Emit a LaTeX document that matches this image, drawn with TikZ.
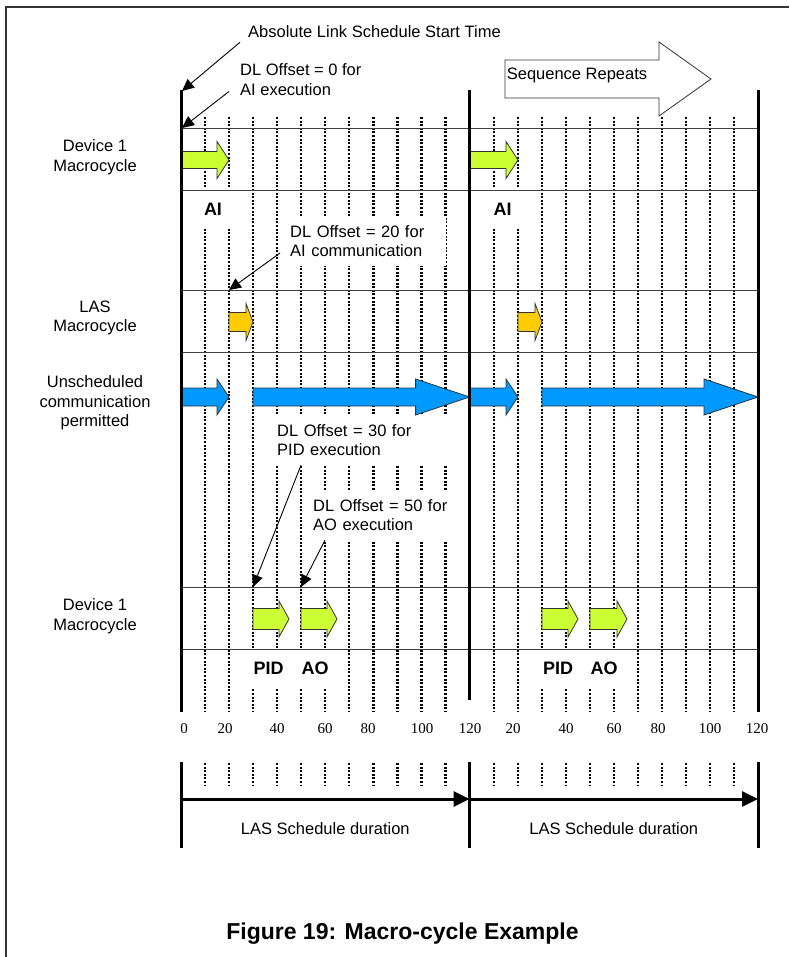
\documentclass[tikz,border=0pt]{standalone}
\usepackage{fontspec}
\setmainfont{Liberation Sans}
\newfontfamily\numfont{Liberation Serif}
\usepackage{xcolor}
\usetikzlibrary{positioning, arrows.meta}

\definecolor{limegr}{RGB}{204,255,51}
\definecolor{goldy}{RGB}{255,204,0}
\definecolor{skyb}{RGB}{0,153,255}

% block arrow: fill, x start, x tip, y, body half, head half, head length
\newcommand\blockarr[7]{%
  \draw[blk, fill=#1] (#2,#4-#5) -- (#3-#7,#4-#5) -- (#3-#7,#4-#6) -- (#3,#4)
    -- (#3-#7,#4+#6) -- (#3-#7,#4+#5) -- (#2,#4+#5) -- cycle;}

\begin{document}
\begin{tikzpicture}[x=1pt, y=-1pt, >=Latex,
  txt/.style={font=\fontsize{16.5}{19.5}\selectfont, align=center, inner sep=0pt},
  note/.style={font=\fontsize{16.5}{19.5}\selectfont, align=left, fill=white, minimum height=50pt},
  fb/.style={font=\bfseries\fontsize{18}{20}\selectfont, fill=white, inner sep=0pt, minimum width=38pt, minimum height=39pt},
  num/.style={font=\numfont\fontsize{15}{17}\selectfont, inner sep=0pt},
  grid/.style={line width=2.2pt, dash pattern=on 2pt off 1.6pt},
  rowline/.style={line width=1pt, black!75},
  bar/.style={line width=3pt},
  lead/.style={line width=0.9pt, -{Triangle[length=12pt,width=11pt]}},
  span/.style={line width=3pt, -{Triangle[length=16pt,width=15pt]}},
  blk/.style={line width=0.8pt, draw=black!80}]
  \useasboundingbox (0,0) rectangle (789,957);
  \draw[line width=2pt, black!80] (6,957) -- (6,7) -- (789,7);

  % dotted time grid, two cycles
  \foreach \c in {181,469.6}
    \foreach \k in {1,...,11} {
      \draw[grid] (\c+24.05*\k,117) -- (\c+24.05*\k,712);
      \draw[grid] (\c+24.05*\k,763) -- (\c+24.05*\k,786);
    }

  % row titles
  \node[txt] (dev1) at (95,157) {Device 1\\Macrocycle};
  \node[txt] (las) at (95,318) {LAS\\Macrocycle};
  \node[txt] (unsch) at (95,403) {Unscheduled\\communication\\permitted};
  \node[txt] (dev2) at (95,616) {Device 1\\Macrocycle};

  % notes
  \node[txt, anchor=west] (abs) at (248,32) {Absolute Link Schedule Start Time};
  \node[txt, anchor=west, align=left] (dl0) at (240,79.5) {DL Offset = 0 for\\AI execution};
  \node[note, anchor=west, text width=153pt, inner sep=3pt] (dl20) at (287,241) {DL Offset = 20 for\\AI communication};
  \node[note, anchor=west, text width=170pt, inner sep=4pt] (dl30) at (273,440) {DL Offset = 30 for\\PID execution};
  \node[note, anchor=west, text width=142pt, inner sep=4pt] (dl50) at (309,515) {DL Offset = 50 for\\AO execution};

  \node[fb] (ai1) at (213,209) {AI};
  \node[fb] (ai2) at (502.5,209) {AI};
  \node[fb, minimum width=40pt] (pid1) at (268.5,668) {PID};
  \node[fb, minimum width=40pt] (ao1) at (315,668) {AO};
  \node[fb, minimum width=40pt] (pid2) at (558,668) {PID};
  \node[fb, minimum width=40pt] (ao2) at (604,668) {AO};

  \foreach \y in {129,191,290,352,587,649}
    \draw[rowline] (181,\y) -- (758,\y);

  % scheduled blocks
  \blockarr{white}{505}{711}{79}{19}{37}{52}
  \node[txt] (seq) at (577,75.5) {Sequence Repeats};
  \blockarr{limegr}{181}{229}{160}{8.5}{18.5}{12}
  \blockarr{limegr}{469.6}{518}{160}{8.5}{18.5}{12}
  \blockarr{goldy}{229}{253}{322}{9.5}{18.5}{7}
  \blockarr{goldy}{518}{542}{322}{9.5}{18.5}{7}
  \blockarr{skyb}{181}{229}{397}{9}{18}{12}
  \blockarr{skyb}{253}{469.6}{397}{9}{18}{54}
  \blockarr{skyb}{469.6}{518}{397}{9}{18}{12}
  \blockarr{skyb}{542}{758}{397}{9}{18}{54}
  \blockarr{limegr}{253}{289}{619}{10.5}{18}{10}
  \blockarr{limegr}{301}{337}{619}{10.5}{18}{10}
  \blockarr{limegr}{542}{578}{619}{10.5}{18}{10}
  \blockarr{limegr}{590}{627}{619}{10.5}{18}{10}

  % cycle bounds
  \draw[bar] (181,90) -- (181,712) (469.6,90) -- (469.6,700) (758,90) -- (758,712);
  \draw[bar] (181,762) -- (181,848) (469.6,762) -- (469.6,848) (758,762) -- (758,848);

  % time scale
  \foreach \x/\t in {184/0, 225/20, 277/40, 325/60, 368/80, 422/100, 470/120,
                     513/20, 566/40, 614/60, 658/80, 710/100, 757/120}
    \node[num] (n\x) at (\x,729) {\t};

  % leaders
  \coordinate (t0) at (182,91);
  \coordinate (o0) at (182,128);
  \coordinate (o20) at (229,290);
  \coordinate (o30) at (253,587);
  \coordinate (o50) at (301,587);
  \draw[lead] ([shift={(-8,4)}]abs.south west) -- (t0);
  \draw[lead] ([shift={(-11,-4)}]dl0.south west) -- (o0);
  \draw[lead] ([shift={(-7,12)}]dl20.west) -- (o20);
  \draw[lead] ([xshift=28pt]dl30.south west) -- (o30);
  \draw[lead] ([xshift=16pt]dl50.south west) -- (o50);

  % durations
  \coordinate (s0) at (181,799);
  \coordinate (s1) at (469.6,799);
  \coordinate (s2) at (758,799);
  \draw[span] (s0) -- node[txt, below=22pt] (dur1) {LAS Schedule duration} (s1);
  \draw[span] (s1) -- node[txt, below=22pt] (dur2) {LAS Schedule duration} (s2);

  \node[font=\bfseries\fontsize{23}{27}\selectfont, inner sep=0pt] (title) at (402.5,934) {Figure 19: Macro-cycle Example};
\end{tikzpicture}
\end{document}
